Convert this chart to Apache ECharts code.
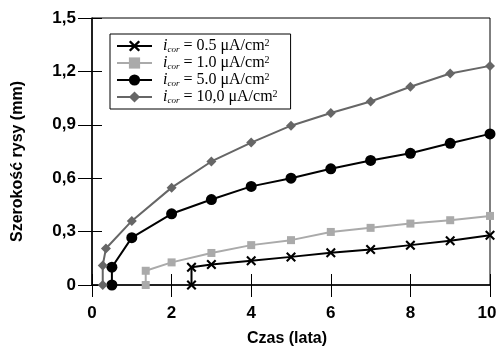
<!DOCTYPE html>
<html>
<head>
<meta charset="utf-8">
<script src="https://cdn.jsdelivr.net/npm/echarts@6/dist/echarts.min.js"></script>
<style>html,body{margin:0;padding:0;background:#fff;}#c{width:498px;height:349px;}</style>
</head>
<body>
<div id="c"></div>
<script>
// Data
const legendValues = ['0.5', '1.0', '5.0', '10,0'];
const t05 = [2.5, 2.5, 3, 4, 5, 6, 7, 8, 9, 10];
const v05 = [0, 0.1, 0.115, 0.136, 0.158, 0.181, 0.2, 0.224, 0.248, 0.28];
const t10 = [1.35, 1.35, 2, 3, 4, 5, 6, 7, 8, 9, 10];
const v10 = [0, 0.08, 0.127, 0.18, 0.224, 0.252, 0.298, 0.321, 0.345, 0.364, 0.388];
const t50 = [0.5, 0.5, 1, 2, 3, 4, 5, 6, 7, 8, 9, 10];
const v50 = [0, 0.1, 0.266, 0.4, 0.48, 0.554, 0.6, 0.653, 0.7, 0.74, 0.796, 0.849];
const t100 = [0.27, 0.27, 0.35, 1, 2, 3, 4, 5, 6, 7, 8, 9, 10];
const v100 = [0, 0.11, 0.205, 0.36, 0.547, 0.694, 0.8, 0.895, 0.966, 1.031, 1.114, 1.188, 1.231];
const xTicks = [0, 2, 4, 6, 8, 10];
const yTicks = [0, 0.3, 0.6, 0.9, 1.2, 1.5];

const pair = (t, v) => t.map((x, i) => [x, v[i]]);
const names = legendValues.map(v => 'icor = ' + v + ' μA/cm2');
const xPath = 'path://M0,1.5 L1.5,0 L5,3.5 L8.5,0 L10,1.5 L6.5,5 L10,8.5 L8.5,10 L5,6.5 L1.5,10 L0,8.5 L3.5,5 Z';

const chart = echarts.init(document.getElementById('c'));
const labelFont = {fontFamily: 'Liberation Sans, Arial, sans-serif', fontWeight: 'bold', fontSize: 17, color: '#000'};
function mk(name, data, color, symbol, size) {
  return {
    name: name, type: 'line', data: data, symbol: symbol, symbolSize: size,
    lineStyle: {color: color, width: 2}, itemStyle: {color: color},
    showAllSymbol: true, animation: false
  };
}
chart.setOption({
  backgroundColor: '#fff',
  animation: false,
  grid: {left: 92, right: 8, top: 18, bottom: 64, show: true, borderColor: '#000', borderWidth: 1,
         containLabel: false, outerBoundsMode: 'none'},
  legend: {
    orient: 'vertical', left: 110, top: 34,
    backgroundColor: '#fff', borderColor: '#000', borderWidth: 1,
    padding: [4, 13, 4, 6], itemWidth: 35, itemHeight: 14, itemGap: 1,
    data: names,
    formatter: function (n) {
      const v = legendValues[names.indexOf(n)];
      return '{i|i}{s|cor}{t| = ' + v + ' μA/cm}{p|2}';
    },
    textStyle: {
      rich: {
        i: {fontFamily: 'Liberation Serif', fontStyle: 'italic', fontSize: 16, color: '#000', lineHeight: 16, padding: [0, 0, 0, 6]},
        s: {fontFamily: 'Liberation Serif', fontStyle: 'italic', fontSize: 9, color: '#000', verticalAlign: 'bottom', lineHeight: 16, padding: [7, 0, 0, 0]},
        t: {fontFamily: 'Liberation Serif', fontSize: 16, color: '#000', lineHeight: 16},
        p: {fontFamily: 'Liberation Serif', fontSize: 10, color: '#000', verticalAlign: 'top', lineHeight: 16, padding: [0, 0, 6, 0]}
      }
    }
  },
  xAxis: [{
    type: 'value', min: 0, max: 10, interval: 2,
    name: 'Czas (lata)', nameLocation: 'middle', nameGap: 46,
    nameTextStyle: {fontFamily: 'Liberation Sans, Arial', fontWeight: 'bold', fontSize: 16, color: '#000', padding: [0, 8, 0, 0]},
    axisLine: {lineStyle: {color: '#000', width: 1.5}},
    axisTick: {inside: false, length: 12, lineStyle: {color: '#000'}},
    axisLabel: Object.assign({margin: 20,
      formatter: v => xTicks.includes(v) ? (v === 10 ? '{r|10}' : String(v)) : '',
      rich: {r: {fontFamily: 'Liberation Sans, Arial, sans-serif', fontWeight: 'bold', fontSize: 17, color: '#000', padding: [0, 6, 0, 0]}}
    }, labelFont),
    splitLine: {show: false}
  }, {
    type: 'value', min: 0, max: 10, interval: 2, position: 'bottom',
    axisLine: {show: false}, axisTick: {inside: true, length: 11, lineStyle: {color: '#000'}},
    axisLabel: {show: false}, splitLine: {show: false}
  }],
  yAxis: [{
    type: 'value', min: 0, max: 1.5, interval: 0.3,
    name: 'Szerokość rysy (mm)', nameLocation: 'middle', nameGap: 66, nameRotate: 90,
    nameTextStyle: {fontFamily: 'Liberation Sans, Arial', fontWeight: 'bold', fontSize: 16, color: '#000', padding: [0, 20, 0, 0]},
    axisLine: {lineStyle: {color: '#000', width: 1.5}},
    axisTick: {inside: false, length: 14, lineStyle: {color: '#000'}},
    axisLabel: Object.assign({margin: 16, formatter: v => {
      const r = yTicks.find(t => Math.abs(t - v) < 1e-9);
      return r === undefined ? '' : (r === 0 ? '0' : r.toFixed(1).replace('.', ','));
    }}, labelFont),
    splitLine: {show: false}
  }, {
    type: 'value', min: 0, max: 1.5, interval: 0.3, position: 'left',
    axisLine: {show: false}, axisTick: {inside: true, length: 10, lineStyle: {color: '#000'}},
    axisLabel: {show: false}, splitLine: {show: false}
  }],
  series: [
    mk(names[0], pair(t05, v05), '#000', xPath, 10),
    mk(names[1], pair(t10, v10), '#aaaaaa', 'rect', 8),
    mk(names[2], pair(t50, v50), '#000', 'circle', 11),
    mk(names[3], pair(t100, v100), '#666666', 'diamond', 10)
  ]
});
</script>
</body>
</html>
